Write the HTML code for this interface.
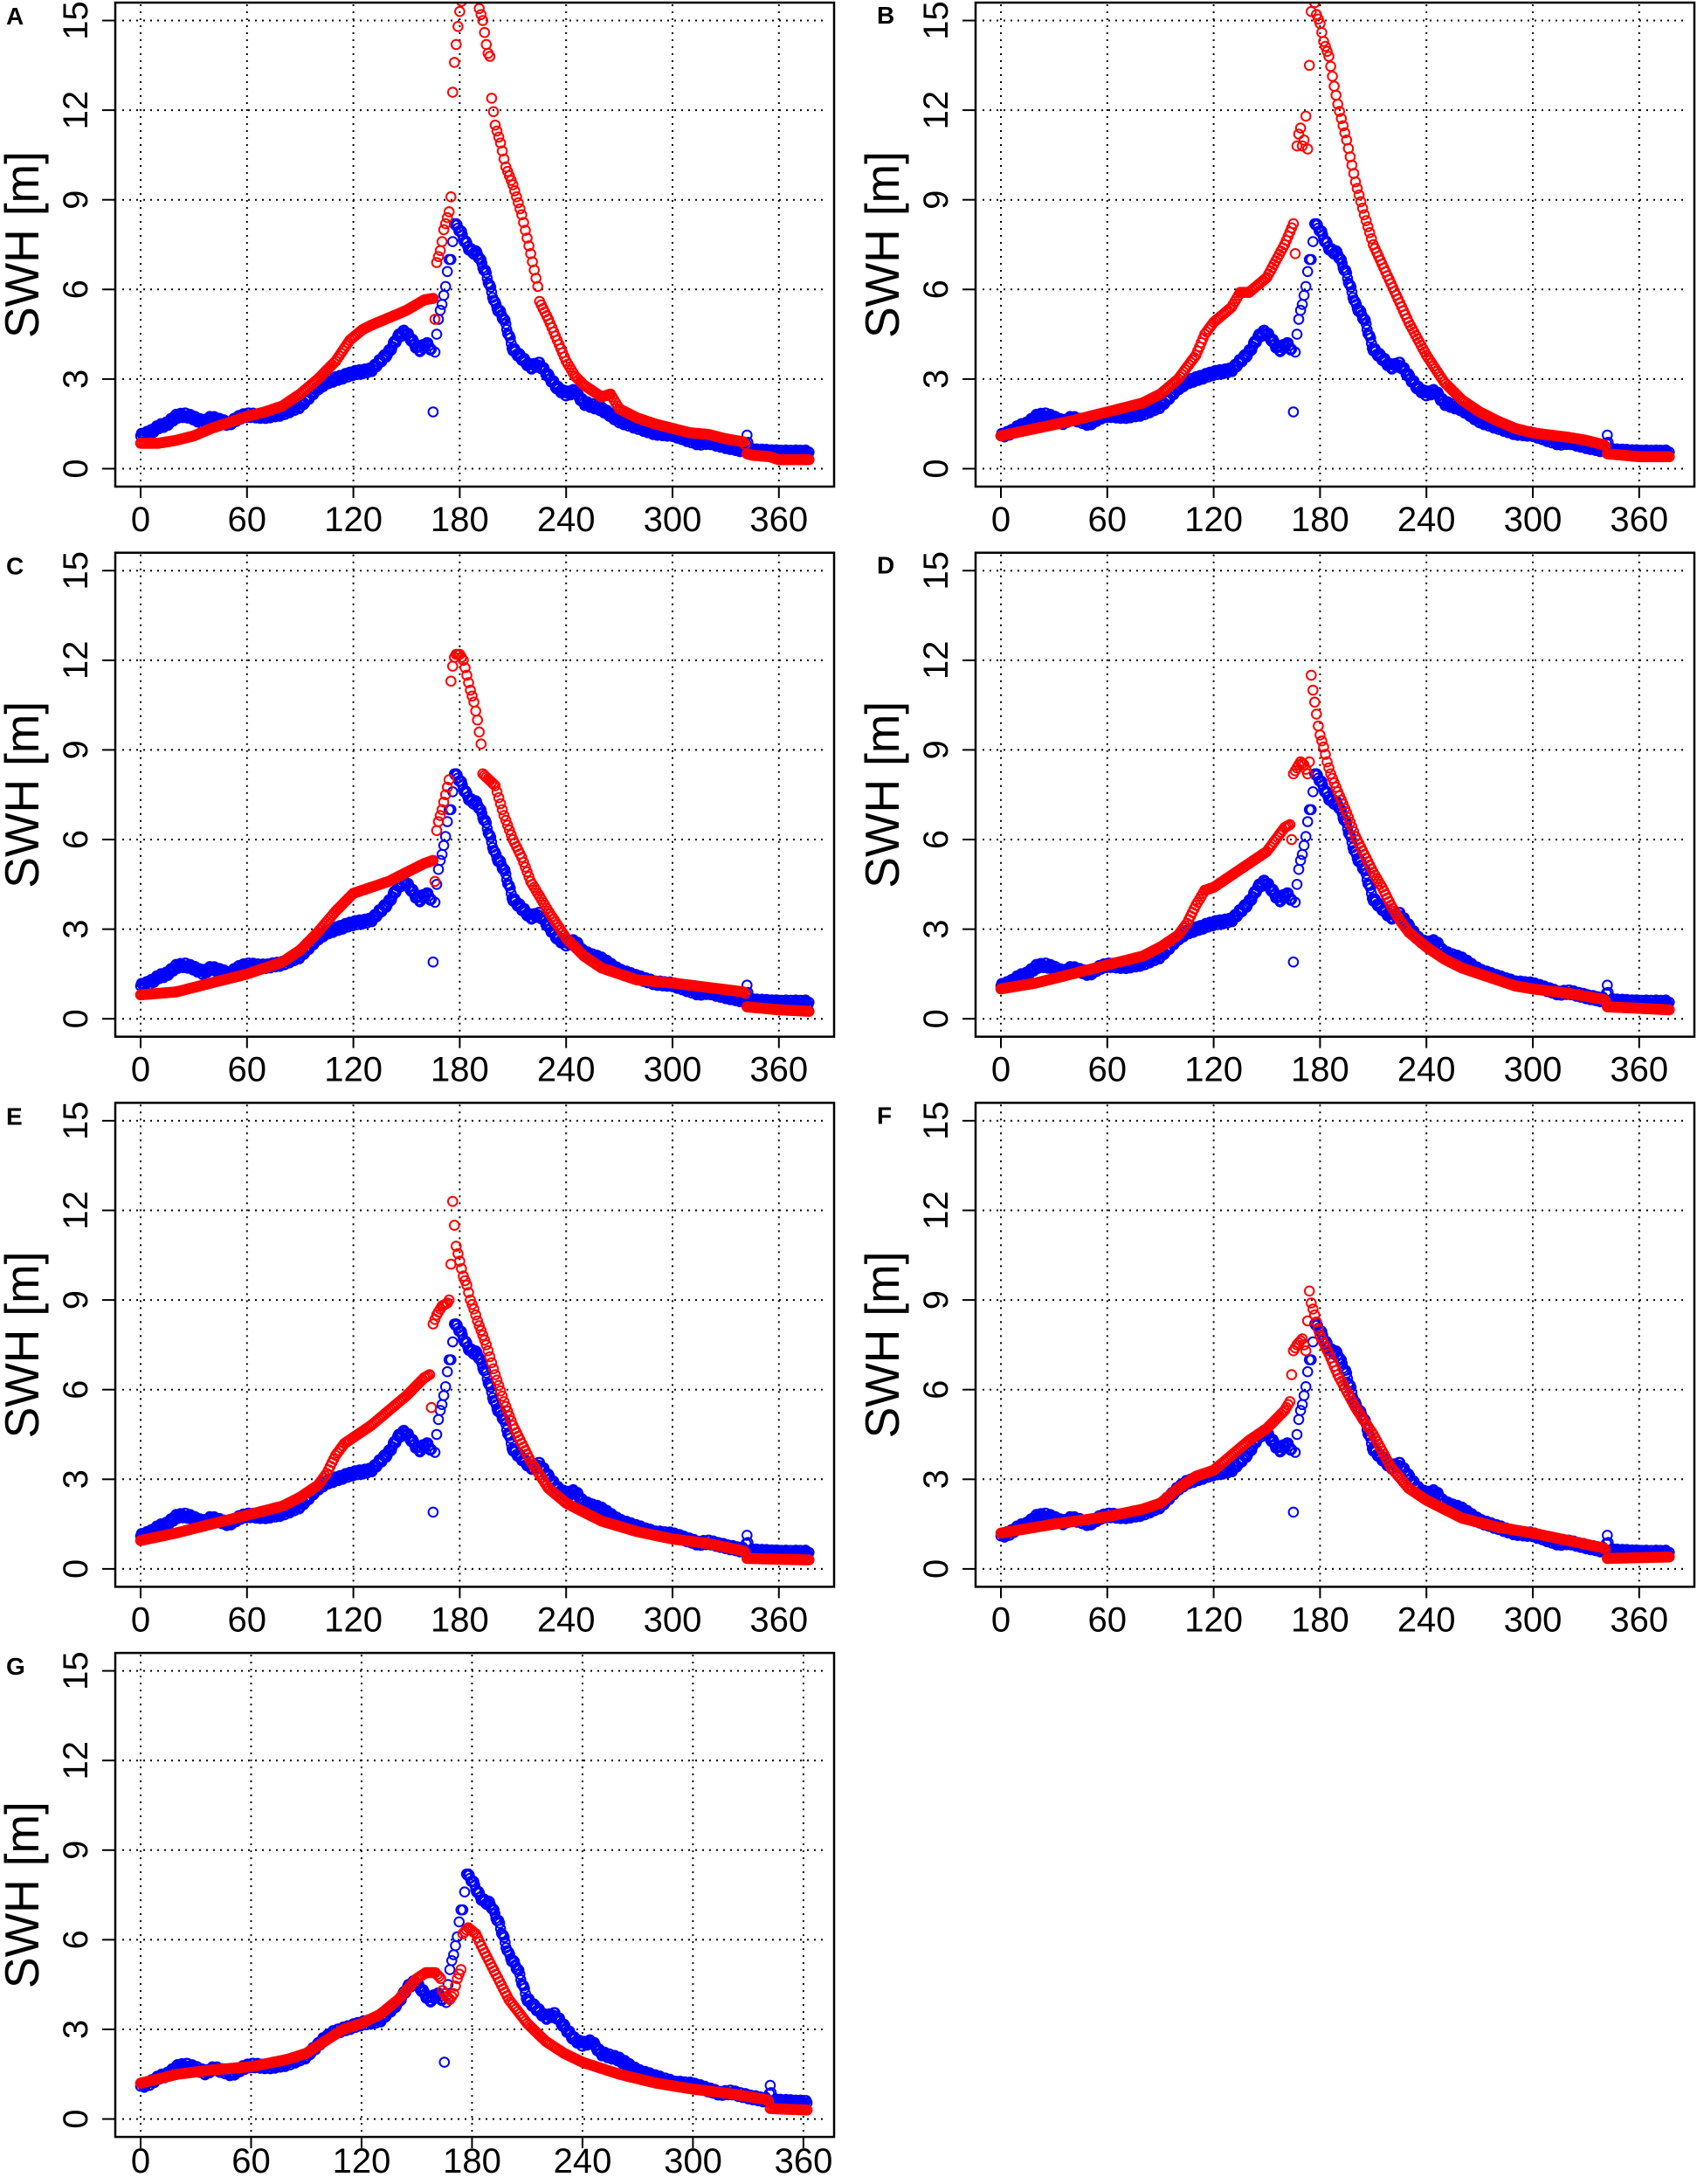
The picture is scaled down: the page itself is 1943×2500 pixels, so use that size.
<!DOCTYPE html>
<html><head><meta charset="utf-8"><style>
body{margin:0;background:#fff}
svg{display:block}
text{font-family:"Liberation Sans",sans-serif;fill:#000}
</style></head><body>
<svg id="s" width="1943" height="2500" viewBox="0 0 1943 2500" xmlns="http://www.w3.org/2000/svg">
<g id="labels">
<!-- Panel A -->
<g transform="translate(0,0)">
<text x="7" y="28" font-size="28" font-weight="bold">A</text>
<text transform="translate(44,280) rotate(-90)" font-size="55" text-anchor="middle" textLength="214" lengthAdjust="spacingAndGlyphs">SWH [m]</text>
<g font-size="40" text-anchor="middle">
<text transform="translate(100,536.5) rotate(-90)">0</text><text transform="translate(100,433.9) rotate(-90)">3</text><text transform="translate(100,331.3) rotate(-90)">6</text><text transform="translate(100,228.7) rotate(-90)">9</text><text transform="translate(100,126.1) rotate(-90)">12</text><text transform="translate(100,23.5) rotate(-90)">15</text>
<text x="161" y="608">0</text><text x="282.8" y="608">60</text><text x="404.6" y="608">120</text><text x="526.4" y="608">180</text><text x="648.2" y="608">240</text><text x="770" y="608">300</text><text x="891.8" y="608">360</text>
</g></g>
<!-- Panel B -->
<g transform="translate(985,0)">
<text x="19" y="27" font-size="28" font-weight="bold">B</text>
<text transform="translate(44,280) rotate(-90)" font-size="55" text-anchor="middle" textLength="214" lengthAdjust="spacingAndGlyphs">SWH [m]</text>
<g font-size="40" text-anchor="middle">
<text transform="translate(100,536.5) rotate(-90)">0</text><text transform="translate(100,433.9) rotate(-90)">3</text><text transform="translate(100,331.3) rotate(-90)">6</text><text transform="translate(100,228.7) rotate(-90)">9</text><text transform="translate(100,126.1) rotate(-90)">12</text><text transform="translate(100,23.5) rotate(-90)">15</text>
<text x="161" y="608">0</text><text x="282.8" y="608">60</text><text x="404.6" y="608">120</text><text x="526.4" y="608">180</text><text x="648.2" y="608">240</text><text x="770" y="608">300</text><text x="891.8" y="608">360</text>
</g></g>
<!-- Panel C -->
<g transform="translate(0,629.7)">
<text x="7" y="28" font-size="28" font-weight="bold">C</text>
<text transform="translate(44,280) rotate(-90)" font-size="55" text-anchor="middle" textLength="214" lengthAdjust="spacingAndGlyphs">SWH [m]</text>
<g font-size="40" text-anchor="middle">
<text transform="translate(100,536.5) rotate(-90)">0</text><text transform="translate(100,433.9) rotate(-90)">3</text><text transform="translate(100,331.3) rotate(-90)">6</text><text transform="translate(100,228.7) rotate(-90)">9</text><text transform="translate(100,126.1) rotate(-90)">12</text><text transform="translate(100,23.5) rotate(-90)">15</text>
<text x="161" y="608">0</text><text x="282.8" y="608">60</text><text x="404.6" y="608">120</text><text x="526.4" y="608">180</text><text x="648.2" y="608">240</text><text x="770" y="608">300</text><text x="891.8" y="608">360</text>
</g></g>
<!-- Panel D -->
<g transform="translate(985,629.7)">
<text x="19" y="27" font-size="28" font-weight="bold">D</text>
<text transform="translate(44,280) rotate(-90)" font-size="55" text-anchor="middle" textLength="214" lengthAdjust="spacingAndGlyphs">SWH [m]</text>
<g font-size="40" text-anchor="middle">
<text transform="translate(100,536.5) rotate(-90)">0</text><text transform="translate(100,433.9) rotate(-90)">3</text><text transform="translate(100,331.3) rotate(-90)">6</text><text transform="translate(100,228.7) rotate(-90)">9</text><text transform="translate(100,126.1) rotate(-90)">12</text><text transform="translate(100,23.5) rotate(-90)">15</text>
<text x="161" y="608">0</text><text x="282.8" y="608">60</text><text x="404.6" y="608">120</text><text x="526.4" y="608">180</text><text x="648.2" y="608">240</text><text x="770" y="608">300</text><text x="891.8" y="608">360</text>
</g></g>
<!-- Panel E -->
<g transform="translate(0,1259.4)">
<text x="7" y="28" font-size="28" font-weight="bold">E</text>
<text transform="translate(44,280) rotate(-90)" font-size="55" text-anchor="middle" textLength="214" lengthAdjust="spacingAndGlyphs">SWH [m]</text>
<g font-size="40" text-anchor="middle">
<text transform="translate(100,536.5) rotate(-90)">0</text><text transform="translate(100,433.9) rotate(-90)">3</text><text transform="translate(100,331.3) rotate(-90)">6</text><text transform="translate(100,228.7) rotate(-90)">9</text><text transform="translate(100,126.1) rotate(-90)">12</text><text transform="translate(100,23.5) rotate(-90)">15</text>
<text x="161" y="608">0</text><text x="282.8" y="608">60</text><text x="404.6" y="608">120</text><text x="526.4" y="608">180</text><text x="648.2" y="608">240</text><text x="770" y="608">300</text><text x="891.8" y="608">360</text>
</g></g>
<!-- Panel F -->
<g transform="translate(985,1259.4)">
<text x="19" y="27" font-size="28" font-weight="bold">F</text>
<text transform="translate(44,280) rotate(-90)" font-size="55" text-anchor="middle" textLength="214" lengthAdjust="spacingAndGlyphs">SWH [m]</text>
<g font-size="40" text-anchor="middle">
<text transform="translate(100,536.5) rotate(-90)">0</text><text transform="translate(100,433.9) rotate(-90)">3</text><text transform="translate(100,331.3) rotate(-90)">6</text><text transform="translate(100,228.7) rotate(-90)">9</text><text transform="translate(100,126.1) rotate(-90)">12</text><text transform="translate(100,23.5) rotate(-90)">15</text>
<text x="161" y="608">0</text><text x="282.8" y="608">60</text><text x="404.6" y="608">120</text><text x="526.4" y="608">180</text><text x="648.2" y="608">240</text><text x="770" y="608">300</text><text x="891.8" y="608">360</text>
</g></g>
<!-- Panel G -->
<g transform="translate(0,1889.1)">
<text x="7" y="28" font-size="28" font-weight="bold">G</text>
<text transform="translate(44,280) rotate(-90)" font-size="55" text-anchor="middle" textLength="214" lengthAdjust="spacingAndGlyphs">SWH [m]</text>
<g font-size="40" text-anchor="middle">
<text transform="translate(100,536.5) rotate(-90)">0</text><text transform="translate(100,433.9) rotate(-90)">3</text><text transform="translate(100,331.3) rotate(-90)">6</text><text transform="translate(100,228.7) rotate(-90)">9</text><text transform="translate(100,126.1) rotate(-90)">12</text><text transform="translate(100,23.5) rotate(-90)">15</text>
<text x="161" y="598">0</text><text x="287.5" y="598">60</text><text x="414" y="598">120</text><text x="540.5" y="598">180</text><text x="667" y="598">240</text><text x="793.5" y="598">300</text><text x="920" y="598">360</text>
</g></g>
</g>
</svg>
<script>
(function(){
var NS="http://www.w3.org/2000/svg",svg=document.getElementById("s");
function el(n,a,p){var e=document.createElementNS(NS,n);for(var k in a)e.setAttribute(k,a[k]);(p||svg).appendChild(e);return e;}
function interp(A,x){for(var i=0;i<A.length-1;i++){var a=A[i],b=A[i+1];if(x>=a[0]&&x<=b[0]){if(b[0]==a[0])return a[1];return a[1]+(b[1]-a[1])*(x-a[0])/(b[0]-a[0]);}}return A[A.length-1][1];}
var blue=[[0,1.1],[5,1.2],[10,1.4],[15,1.5],[20,1.75],[25,1.8],[30,1.7],[35,1.55],[40,1.7],[45,1.6],[50,1.5],[55,1.7],[60,1.8],[70,1.75],[80,1.85],[90,2.1],[100,2.7],[105,2.9],[110,3.0],[120,3.2],[130,3.3],[135,3.6],[140,3.9],[145,4.4],[149,4.6],[153,4.3],[157,3.95],[161,4.2],[164,4.0],[165,1.9],[166,3.9],[167,4.5],[168,5.0],[169,5.3],[170,5.5],[171,5.8],[172,6.1],[173,6.6],[174,7.0],[175,7.0],[177,8.2],[180,8.0],[183,7.6],[186,7.3],[190,7.2],[195,6.5],[200,5.5],[205,5.0],[210,4.0],[215,3.7],[220,3.4],[225,3.5],[230,3.1],[235,2.7],[240,2.5],[245,2.6],[250,2.2],[260,2.0],[270,1.6],[280,1.4],[290,1.2],[300,1.15],[310,0.95],[315,0.85],[320,0.9],[330,0.75],[338,0.65],[341,0.65],[342,1.05],[343,0.6],[360,0.55],[377,0.55]];
var reds={
A:[[0,0.85],[10,0.85],[20,0.95],[30,1.1],[40,1.35],[50,1.55],[60,1.75],[70,1.9],[80,2.1],[90,2.5],[100,3.0],[110,3.6],[118,4.3],[125,4.65],[130,4.8],[140,5.05],[150,5.3],[160,5.65],[165,5.7],[166,5.0],[167,6.9],[168,7.1],[169,7.3],[170,7.6],[171,8.0],[172,8.2],[174,8.6],[175,9.1],[176,12.6],[177,13.6],[178,14.2],[179,14.8],[180,15.3],[185,17],[190,16],[191,15.4],[193,15.0],[194,14.6],[195,14.2],[196,13.9],[197,13.8],[198,12.4],[200,11.5],[203,10.9],[206,10.1],[210,9.5],[215,8.5],[220,7.2],[224,6.1],[225,5.6],[230,5.0],[235,4.3],[240,3.6],[245,3.1],[250,2.8],[260,2.4],[265,2.5],[270,2.0],[280,1.7],[290,1.5],[300,1.35],[310,1.2],[320,1.15],[330,1.0],[340,0.9],[341,0.8],[342,0.5],[345,0.45],[355,0.4],[360,0.3],[377,0.3]],
B:[[0,1.1],[20,1.35],[40,1.6],[60,1.9],[80,2.2],[90,2.5],[100,3.0],[110,3.8],[115,4.5],[120,4.9],[130,5.4],[135,5.9],[140,5.9],[150,6.4],[160,7.5],[165,8.2],[166,7.2],[167,10.8],[168,11.2],[169,11.4],[170,10.8],[171,11.0],[172,11.8],[173,10.7],[174,13.5],[175,15.3],[176,16],[177,15.6],[178,15.2],[180,14.9],[182,14.3],[185,13.8],[188,12.8],[190,12.2],[195,11.0],[200,9.6],[205,8.5],[210,7.5],[220,6.2],[230,4.9],[240,3.8],[250,2.9],[260,2.3],[270,1.9],[280,1.6],[290,1.35],[300,1.2],[320,1.05],[330,0.95],[340,0.8],[341,0.75],[342,0.5],[360,0.4],[377,0.4]],
C:[[0,0.8],[20,0.9],[40,1.2],[60,1.5],[80,1.9],[90,2.3],[100,2.9],[110,3.6],[120,4.2],[130,4.4],[140,4.6],[150,4.9],[160,5.2],[165,5.3],[166,4.6],[167,6.3],[168,6.6],[170,7.0],[172,7.5],[174,8.0],[175,11.3],[176,11.8],[177,12.1],[178,12.2],[180,12.2],[182,12.0],[184,11.5],[186,11.0],[188,10.6],[190,10.0],[192,9.2],[193,8.2],[200,7.8],[205,6.8],[210,6.0],[215,5.4],[220,4.6],[230,3.6],[240,2.7],[250,2.1],[260,1.7],[270,1.5],[280,1.3],[300,1.2],[320,1.05],[340,0.9],[341,0.85],[342,0.4],[360,0.3],[377,0.25]],
D:[[0,1.0],[20,1.2],[40,1.5],[60,1.8],[80,2.1],[90,2.4],[100,2.8],[105,3.2],[110,3.8],[115,4.3],[120,4.4],[130,4.8],[140,5.2],[150,5.6],[155,6.0],[160,6.4],[163,6.5],[164,6.0],[165,8.2],[167,8.4],[169,8.6],[171,8.5],[173,8.2],[174,8.6],[175,11.5],[176,11.0],[177,10.6],[178,10.2],[179,9.8],[180,9.5],[181,9.3],[182,9.1],[184,8.6],[186,8.2],[190,7.6],[195,6.9],[200,6.1],[205,5.5],[210,4.9],[215,4.4],[220,3.8],[225,3.3],[230,2.9],[240,2.4],[250,2.0],[260,1.7],[270,1.5],[280,1.3],[290,1.1],[300,1.0],[320,0.85],[340,0.65],[341,0.6],[342,0.4],[360,0.35],[377,0.3]],
E:[[0,0.95],[20,1.2],[40,1.5],[60,1.8],[80,2.1],[90,2.4],[100,2.8],[105,3.2],[110,3.8],[115,4.2],[120,4.4],[130,4.8],[140,5.3],[150,5.8],[160,6.4],[163,6.5],[164,5.4],[165,8.2],[167,8.5],[170,8.8],[173,8.9],[174,9.0],[175,10.2],[176,12.3],[177,11.5],[178,10.8],[180,10.3],[182,9.8],[184,9.5],[186,9.0],[188,8.7],[190,8.3],[195,7.5],[200,6.5],[205,5.6],[210,4.8],[220,3.6],[230,2.7],[240,2.2],[260,1.6],[280,1.25],[300,1.0],[320,0.85],[340,0.6],[341,0.55],[342,0.35],[377,0.3]],
F:[[0,1.2],[30,1.5],[60,1.75],[80,2.0],[90,2.2],[100,2.7],[110,3.1],[120,3.3],[130,3.8],[140,4.3],[150,4.7],[160,5.3],[163,5.6],[164,6.5],[165,7.3],[167,7.5],[170,7.7],[172,7.3],[173,8.3],[174,9.3],[175,8.9],[177,8.5],[180,7.8],[185,7.2],[190,6.5],[200,5.4],[210,4.5],[220,3.4],[230,2.7],[240,2.3],[250,2.0],[260,1.7],[280,1.4],[300,1.2],[320,0.95],[340,0.7],[341,0.65],[342,0.35],[377,0.4]],
G:[[0,1.2],[20,1.5],[40,1.65],[60,1.75],[80,2.0],[90,2.2],[100,2.6],[110,3.0],[120,3.2],[130,3.5],[140,4.0],[150,4.7],[155,4.9],[160,4.9],[163,4.7],[164,4.3],[166,4.1],[168,4.0],[170,4.2],[172,4.7],[174,5.0],[175,6.2],[178,6.4],[182,6.2],[185,5.8],[190,5.2],[195,4.6],[200,4.0],[210,3.2],[220,2.6],[230,2.2],[240,1.9],[260,1.5],[280,1.2],[300,1.0],[320,0.85],[340,0.65],[341,0.6],[342,0.35],[362,0.3]]
};
var panels=[["A",0,0,2.03,377],["B",985,0,2.03,377],["C",0,629.7,2.03,377],["D",985,629.7,2.03,377],["E",0,1259.4,2.03,377],["F",985,1259.4,2.03,377],["G",0,1889.1,2.108,362]];
var yv=[0,3,6,9,12,15],xv=[0,60,120,180,240,300,360];
panels.forEach(function(p,idx){
 var g=el("g",{transform:"translate("+p[1]+","+p[2]+")"});
 var x0=161,y0=536.5,ys=34.2,xs=p[3];
 var cl=el("clipPath",{id:"cp"+idx},g);el("rect",{x:132,y:3,width:823,height:554},cl);
 var grid=el("g",{stroke:"#000","stroke-width":2,"stroke-dasharray":"2 6",fill:"none"},g);
 yv.forEach(function(v){var y=y0-v*ys;el("line",{x1:140,x2:948,y1:y,y2:y},grid);el("line",{x1:117,x2:132,y1:y,y2:y,"stroke-dasharray":"none"},grid);});
 xv.forEach(function(v){var x=x0+v*xs;el("line",{x1:x,x2:x,y1:5,y2:555},grid);el("line",{x1:x,x2:x,y1:557,y2:570,"stroke-dasharray":"none"},grid);});
 var pts=el("g",{"clip-path":"url(#cp"+idx+")",fill:"none","stroke-width":2},g);
 function series(A,col,thick){var gg=el("g",{stroke:col},pts);var st=thick?0.5:1;for(var x=0;x<=p[4]+1e-6;x+=st){var v=interp(A,x);var jump=(x>=164&&x<=177);if(thick&&jump&&x%1!==0)continue;var w=(thick&&!jump)?0.08*Math.sin(x*2.3):0;el("circle",{cx:(x0+x*xs).toFixed(1),cy:(y0-(v+w)*ys).toFixed(1),r:5.3},gg);}}
 series(blue,"#0000ff",true);series(reds[p[0]],"#ff0000",false);
 el("rect",{x:132,y:3,width:823,height:554,fill:"none",stroke:"#000","stroke-width":2.5},g);
});
})();
</script>
</body></html>
